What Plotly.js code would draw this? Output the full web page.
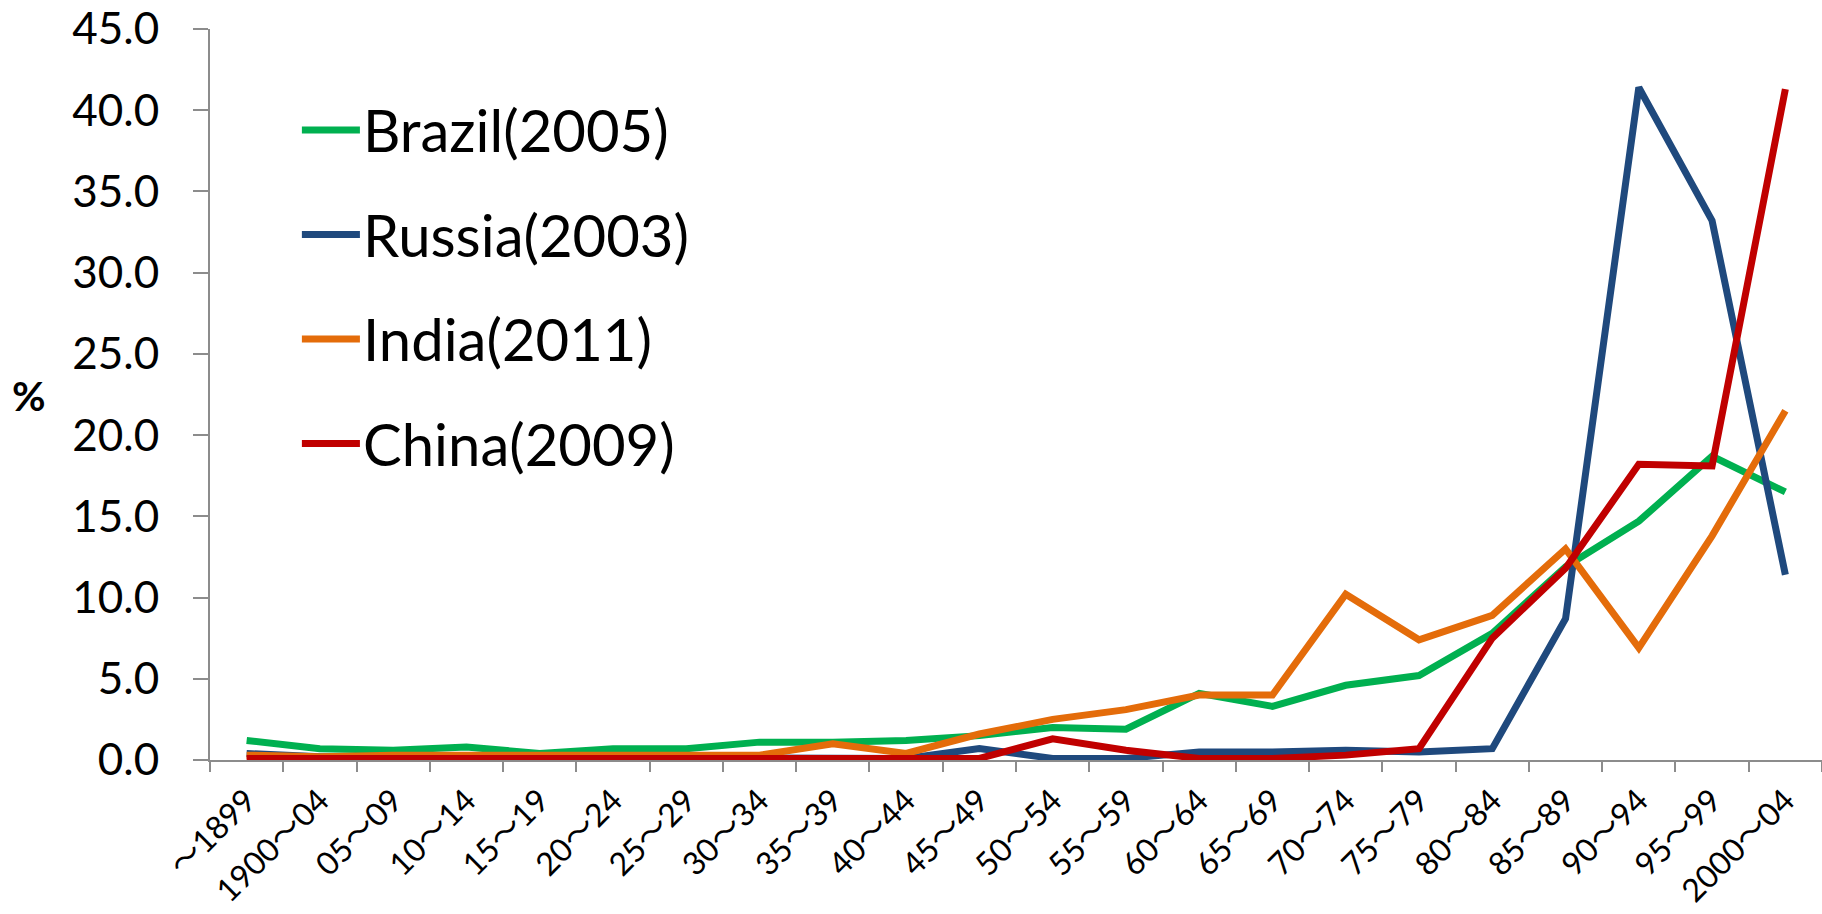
<!DOCTYPE html>
<html>
<head>
<meta charset="utf-8">
<script src="https://cdn.plot.ly/plotly-3.0.1.min.js"></script>
<style>
  html, body { margin: 0; padding: 0; background: #ffffff; }
  #chart { width: 1822px; height: 914px; }
</style>
</head>
<body>
<div id="chart"></div>
<script>
// Birth-period categories
const periods = ["～1899", "1900～04", "05～09", "10～14", "15～19", "20～24", "25～29",
  "30～34", "35～39", "40～44", "45～49", "50～54", "55～59", "60～64", "65～69",
  "70～74", "75～79", "80～84", "85～89", "90～94", "95～99", "2000～04"];

// Share of each period, %
const brazil2005 = [1.2, 0.7, 0.6, 0.8, 0.4, 0.7, 0.7, 1.1, 1.1, 1.2, 1.5, 2.0, 1.9, 4.1, 3.3, 4.6, 5.2, 7.8, 11.9, 14.7, 18.7, 16.5];
const russia2003 = [0.4, 0.2, 0.2, 0.2, 0.1, 0.1, 0.1, 0.1, 0.2, 0.1, 0.7, 0.1, 0.1, 0.5, 0.5, 0.6, 0.5, 0.7, 8.7, 41.4, 33.2, 11.4];
const india2011 = [0.3, 0.2, 0.3, 0.3, 0.3, 0.3, 0.3, 0.3, 1.0, 0.4, 1.6, 2.5, 3.1, 4.0, 4.0, 10.2, 7.4, 8.9, 13.0, 6.9, 13.8, 21.5];
const china2009 = [0.1, 0.1, 0.1, 0.1, 0.1, 0.1, 0.1, 0.1, 0.1, 0.1, 0.1, 1.3, 0.6, 0.1, 0.1, 0.3, 0.7, 7.5, 11.8, 18.2, 18.1, 41.3];

const seriesNames = ["Brazil(2005)", "Russia(2003)", "India(2011)", "China(2009)"];
const seriesValues = [brazil2005, russia2003, india2011, china2009];
const seriesColors = ["#00B050", "#1F497D", "#E46C0A", "#C00000"];

const FONT = "Lato, 'Open Sans', 'Liberation Sans', sans-serif";
// Digits from Lato; the full-width wave dash falls through to the CJK face
const TICK_FONT = "Lato, 'Noto Sans CJK JP', 'Noto Sans CJK SC', sans-serif";
const AXIS_GREY = "#8C8C8C";

const traces = seriesValues.map((vals, i) => ({
  type: "scatter",
  mode: "lines",
  name: seriesNames[i],
  x: periods,
  y: vals,
  line: { color: seriesColors[i], width: 7 },
  showlegend: false,
  hoverinfo: "x+y+name"
}));

// Hand-built legend: a swatch line and a label per series, stacked downward
const legendShapes = [];
const legendNotes = [];
const legTop = 0.862, legStep = 0.143;
seriesNames.forEach((name, i) => {
  const yy = legTop - i * legStep;
  legendShapes.push({
    type: "line", xref: "paper", yref: "paper",
    x0: 0.057, x1: 0.093, y0: yy, y1: yy,
    line: { color: seriesColors[i], width: 7 }
  });
  legendNotes.push({
    xref: "paper", yref: "paper", x: 0.0935, y: yy,
    xanchor: "left", yanchor: "middle", showarrow: false,
    text: name, font: { family: FONT, size: 58, color: "#000000" }
  });
});

// Horizontal "%" label beside the value axis
legendNotes.push({
  xref: "paper", yref: "paper", x: -0.112, y: 0.498,
  xanchor: "center", yanchor: "middle", showarrow: false,
  text: "<b>%</b>", font: { family: FONT, size: 41, color: "#000000" }
});

const layout = {
  width: 1822,
  height: 914,
  margin: { l: 210, r: 0, t: 29, b: 154 },
  paper_bgcolor: "#ffffff",
  plot_bgcolor: "#ffffff",
  showlegend: false,
  xaxis: {
    type: "category",
    range: [-0.5, 21.5],
    showgrid: false,
    zeroline: false,
    showline: true,
    linecolor: AXIS_GREY,
    linewidth: 2,
    ticks: "outside",
    tickson: "boundaries",
    ticklen: 10,
    tickwidth: 2,
    tickcolor: AXIS_GREY,
    tickangle: -45,
    ticklabelstandoff: 7,
    tickfont: { family: TICK_FONT, size: 32, color: "#000000" }
  },
  yaxis: {
    range: [0, 45],
    dtick: 5,
    tick0: 0,
    tickformat: ".1f",
    showgrid: false,
    zeroline: false,
    showline: true,
    linecolor: AXIS_GREY,
    linewidth: 2,
    ticks: "outside",
    ticklen: 15,
    tickwidth: 2,
    tickcolor: AXIS_GREY,
    ticklabelstandoff: 25,
    tickfont: { family: FONT, size: 44, color: "#000000" }
  },
  shapes: legendShapes,
  annotations: legendNotes
};

Plotly.newPlot("chart", traces, layout, { displayModeBar: false, staticPlot: true });
</script>
</body>
</html>
